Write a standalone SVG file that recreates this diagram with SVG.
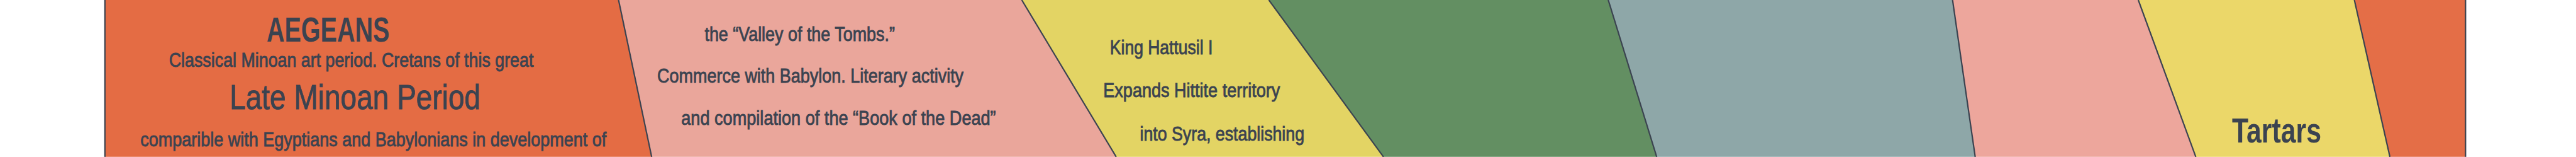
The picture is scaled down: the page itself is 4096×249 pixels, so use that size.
<svg xmlns="http://www.w3.org/2000/svg" width="4096" height="249" viewBox="0 0 4096 249">
<style>
.t{font-family:"Liberation Sans",Arial,sans-serif;fill:#3B4350;font-weight:normal;stroke:#3B4350;stroke-width:1.6px}
.b{font-weight:bold;stroke:none}
.s{font-size:57px}
.l{font-size:99px}
.sep{stroke:#3B4350;stroke-width:4;fill:none}
</style>
<rect width="4096" height="249" fill="#ffffff"/>
<g transform="scale(0.554113)">
<g id="aegeans">
<polygon points="301,0 1775,0 1870,449 301,449" fill="#E46C44"/>
<text class="t l b" x="765" y="119" textLength="353" lengthAdjust="spacingAndGlyphs">AEGEANS</text>
<text class="t s" x="485" y="192" textLength="1046" lengthAdjust="spacingAndGlyphs">Classical Minoan art period. Cretans of this great</text>
<text class="t l" x="659" y="312" textLength="720" lengthAdjust="spacingAndGlyphs">Late Minoan Period</text>
<text class="t s" x="403" y="419" textLength="1337" lengthAdjust="spacingAndGlyphs">comparible with Egyptians and Babylonians in development of</text>
</g>
<g id="egypt">
<polygon points="1775,0 2932,0 3203,449 1870,449" fill="#EAA69B"/>
<text class="t s" x="2022" y="117" textLength="546" lengthAdjust="spacingAndGlyphs">the “Valley of the Tombs.”</text>
<text class="t s" x="1886" y="237" textLength="879" lengthAdjust="spacingAndGlyphs">Commerce with Babylon. Literary activity</text>
<text class="t s" x="1955" y="357" textLength="903" lengthAdjust="spacingAndGlyphs">and compilation of the “Book of the Dead”</text>
</g>
<g id="hittites">
<polygon points="2932,0 3641,0 3970,449 3203,449" fill="#E3D464"/>
<text class="t s" x="3185" y="155" textLength="295" lengthAdjust="spacingAndGlyphs">King Hattusil I</text>
<text class="t s" x="3166" y="278" textLength="507" lengthAdjust="spacingAndGlyphs">Expands Hittite territory</text>
<text class="t s" x="3271" y="402" textLength="472" lengthAdjust="spacingAndGlyphs">into Syra, establishing</text>
</g>
<g id="green-band">
<polygon points="3641,0 4615,0 4754,449 3970,449" fill="#638F62"/>
</g>
<g id="gray-band">
<polygon points="4615,0 5603,0 5668,449 4754,449" fill="#8EA7A8"/>
</g>
<g id="pink-band">
<polygon points="5603,0 6136,0 6301,449 5668,449" fill="#EDA69C"/>
</g>
<g id="tartars">
<polygon points="6136,0 6756,0 6858,449 6301,449" fill="#EBD769"/>
<text class="t l b" x="6405" y="407" textLength="256" lengthAdjust="spacingAndGlyphs">Tartars</text>
</g>
<g id="orange-band">
<polygon points="6756,0 7075,0 7075,449 6858,449" fill="#E46E47"/>
</g>
<g id="connectors">
<line class="sep" x1="301" y1="0" x2="301" y2="449"/>
<line class="sep" x1="1775" y1="0" x2="1870" y2="449"/>
<line class="sep" x1="2932" y1="0" x2="3203" y2="449"/>
<line class="sep" x1="3641" y1="0" x2="3970" y2="449"/>
<line class="sep" x1="4615" y1="0" x2="4754" y2="449"/>
<line class="sep" x1="5603" y1="0" x2="5668" y2="449"/>
<line class="sep" x1="6136" y1="0" x2="6301" y2="449"/>
<line class="sep" x1="6756" y1="0" x2="6858" y2="449"/>
<line class="sep" x1="7075" y1="0" x2="7075" y2="449"/>
</g>
</g>
</svg>
